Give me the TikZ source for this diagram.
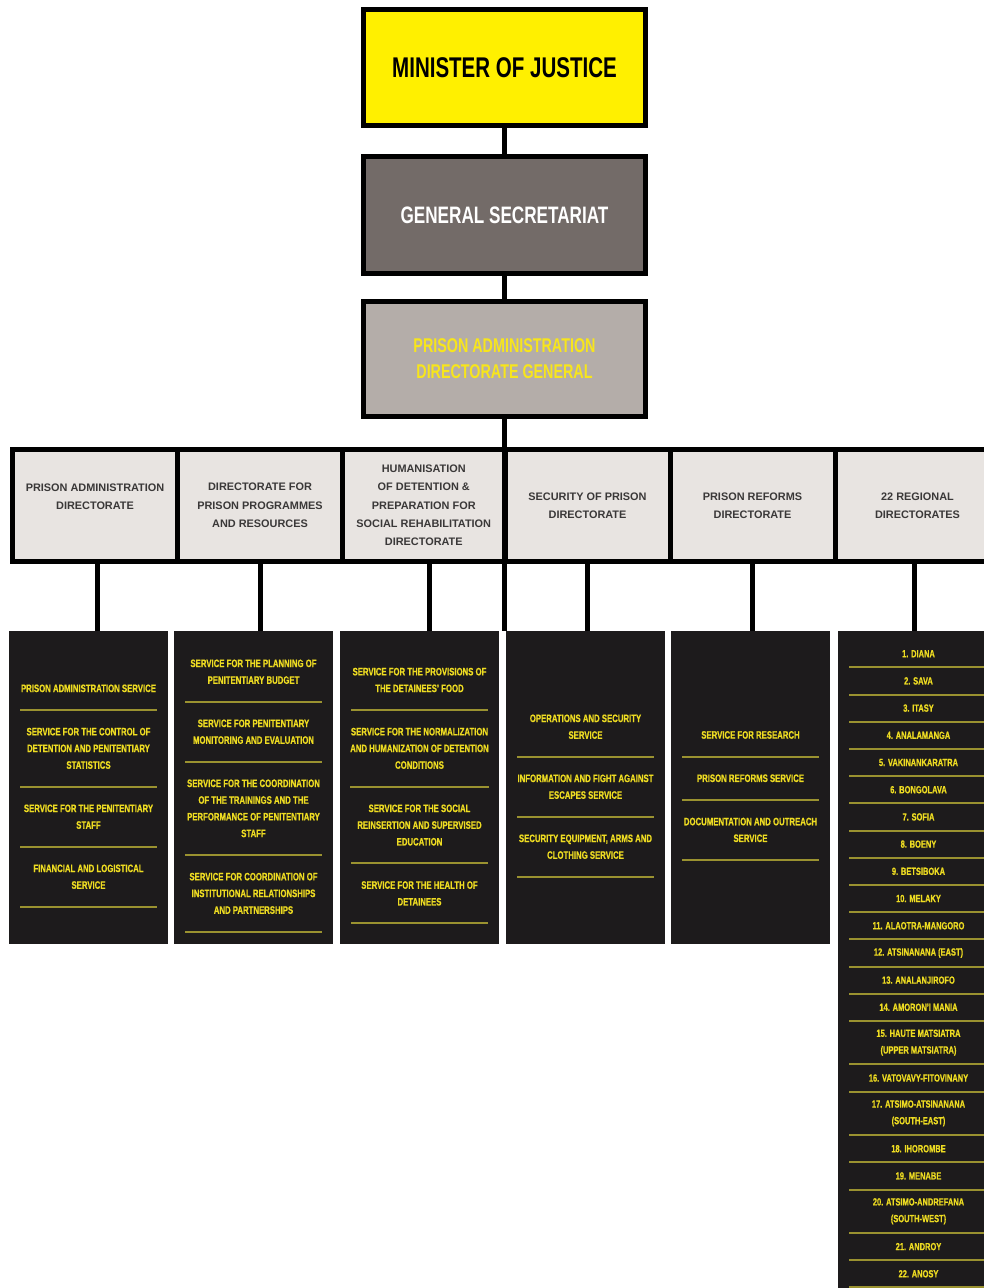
\documentclass[tikz,border=0pt]{standalone}
\usepackage{fontspec}
\usetikzlibrary{positioning}
\setmainfont{Liberation Sans}
\newfontfamily\condfont[FakeStretch=0.72]{Liberation Sans Bold}
\newfontfamily\svcfont[FakeStretch=0.72, FakeBold=0.6]{Liberation Sans Bold}
\newfontfamily\dirfont{Liberation Sans Bold}

\definecolor{minyellow}{HTML}{FFF000}
\definecolor{secgrey}{HTML}{736B68}
\definecolor{dggrey}{HTML}{B4ADA9}
\definecolor{dgyellow}{HTML}{F7E51C}
\definecolor{dirgrey}{HTML}{E8E4E1}
\definecolor{dirtext}{HTML}{3A3838}
\definecolor{svcblack}{HTML}{1D1B1C}
\definecolor{svcyellow}{HTML}{EEDC22}
\definecolor{svcline}{HTML}{9A9230}

\begin{document}
\begin{tikzpicture}[x=1pt, y=-1pt,
	topbox/.style={draw, line width=5pt, minimum width=282pt, align=center, inner sep=0pt},
	dirbox/.style={draw, line width=5pt, fill=dirgrey, minimum width=165pt, minimum height=112pt, inner sep=0pt, text=dirtext, align=center, font=\dirfont\fontsize{10.9}{18.3}\selectfont},
	svcbox/.style={fill=svcblack, minimum width=159pt, minimum height=313pt, inner sep=0pt},
	svc/.style={text=svcyellow, minimum width=137pt, align=center, inner sep=0pt, outer sep=0pt, font=\svcfont\fontsize{10.8}{16.7}\selectfont},
	oneline/.style={svc, minimum height=43.3pt},
	twolines/.style={svc, minimum height=60pt},
	threelines/.style={svc, minimum height=76.7pt},
	fourlines/.style={svc, minimum height=93.3pt},
	reg/.style={svc, minimum width=139pt, font=\svcfont\fontsize{10.4}{16.7}\selectfont},
	sepline/.style={draw=svcline, line width=2pt},
	link/.style={draw, line width=5pt}]

	\useasboundingbox (0,0) rectangle (984,1288);

	\node (s1) [svcbox] at (88.5,787.5) {};
	\node (s2) [svcbox] at (253.5,787.5) {};
	\node (s3) [svcbox] at (419.5,787.5) {};
	\node (s4) [svcbox] at (585,787.5) {};
	\node (s5) [svcbox] at (750.5,787.5) {};
	\node (s6) [svcbox, minimum width=160pt, minimum height=669pt] at (918,965.5) {};

	\node (mj) [topbox, fill=minyellow, minimum height=116pt, font=\condfont\fontsize{28.5}{34}\selectfont] at (504.5,67.5) {MINISTER OF JUSTICE};
	\node (gs) [topbox, fill=secgrey, minimum height=117pt, below=26pt of mj, text=white, font=\condfont\fontsize{23.8}{28}\selectfont] {GENERAL SECRETARIAT};
	\node (pa) [topbox, fill=dggrey, minimum height=115pt, below=23pt of gs, text=dgyellow, font=\condfont\fontsize{19.9}{26}\selectfont] {PRISON ADMINISTRATION\\DIRECTORATE GENERAL};

	\node (d1) [dirbox] at (95,505.5) {PRISON ADMINISTRATION\\DIRECTORATE\\\mbox{}};
	\node (d2) [dirbox, right=-5pt of d1] {DIRECTORATE FOR\\PRISON PROGRAMMES\\AND RESOURCES};
	\node (d3) [dirbox, minimum width=162.5pt, right=-5pt of d2] {HUMANISATION\\OF DETENTION \&\\PREPARATION FOR\\SOCIAL REHABILITATION\\DIRECTORATE};
	\node (d4) [dirbox, right=-5pt of d3] {SECURITY OF PRISON\\DIRECTORATE};
	\node (d5) [dirbox, right=-5pt of d4] {PRISON REFORMS\\DIRECTORATE};
	\node (d6) [dirbox, right=-5pt of d5] {22 REGIONAL\\DIRECTORATES};

	\path[link]
	(mj) edge (gs)
	(gs) edge (pa)
	(pa.south) edge (pa.south |- s4.north)
	
	([xshift=2pt]d1.south) edge ([xshift=2pt]d1.south |- s1.north)
	(d2.south) edge (d2.south |- s2.north)
	([xshift=6pt]d3.south) edge ([xshift=6pt]d3.south |- s3.north)
	(d4.south) edge (d4.south |- s4.north)
	(d5.south) edge (d5.south |- s5.north)
	([xshift=-3.5pt]d6.south) edge ([xshift=-3.5pt]d6.south |- s6.north);

	\node (a1) [oneline, anchor=north] at (88.5,666.7) {PRISON ADMINISTRATION SERVICE};
	\node (a2) [threelines, below=0pt of a1] {SERVICE FOR THE CONTROL OF\\DETENTION AND PENITENTIARY\\STATISTICS};
	\node (a3) [twolines, below=0pt of a2] {SERVICE FOR THE PENITENTIARY\\STAFF};
	\node (a4) [twolines, below=0pt of a3] {FINANCIAL AND LOGISTICAL\\SERVICE};

	\node (b1) [twolines, anchor=north] at (253.5,641.7) {SERVICE FOR THE PLANNING OF\\PENITENTIARY BUDGET};
	\node (b2) [twolines, below=0pt of b1] {SERVICE FOR PENITENTIARY\\MONITORING AND EVALUATION};
	\node (b3) [fourlines, below=0pt of b2] {SERVICE FOR THE COORDINATION\\OF THE TRAININGS AND THE\\PERFORMANCE OF PENITENTIARY\\STAFF};
	\node (b4) [threelines, below=0pt of b3] {SERVICE FOR COORDINATION OF\\INSTITUTIONAL RELATIONSHIPS\\AND PARTNERSHIPS};

	\node (c1) [twolines, anchor=north] at (419.5,650) {SERVICE FOR THE PROVISIONS OF\\THE DETAINEES’ FOOD};
	\node (c2) [threelines, below=0pt of c1] {SERVICE FOR THE NORMALIZATION\\AND HUMANIZATION OF DETENTION\\CONDITIONS};
	\node (c3) [threelines, below=0pt of c2] {SERVICE FOR THE SOCIAL\\REINSERTION AND SUPERVISED\\EDUCATION};
	\node (c4) [twolines, below=0pt of c3] {SERVICE FOR THE HEALTH OF\\DETAINEES};

	\node (e1) [twolines, anchor=north] at (585.5,696.7) {OPERATIONS AND SECURITY\\SERVICE};
	\node (e2) [twolines, below=0pt of e1] {INFORMATION AND FIGHT AGAINST\\ESCAPES SERVICE};
	\node (e3) [twolines, below=0pt of e2] {SECURITY EQUIPMENT, ARMS AND\\CLOTHING SERVICE};

	\node (f1) [oneline, anchor=north] at (750.5,713.3) {SERVICE FOR RESEARCH};
	\node (f2) [oneline, below=0pt of f1] {PRISON REFORMS SERVICE};
	\node (f3) [twolines, below=0pt of f2] {DOCUMENTATION AND OUTREACH\\SERVICE};

	\foreach \n in {a1,a2,a3,a4,b1,b2,b3,b4,c1,c2,c3,c4,e1,e2,e3,f1,f2,f3}
		\draw[sepline] (\n.south west) -- (\n.south east);

	\node (r1) [reg, minimum height=27.2pt, anchor=north] at (918.5,640.1) {1. DIANA};
	\foreach \i/\j/\h/\txt in {2/1/27.2/2. SAVA, 3/2/27.2/3. ITASY, 4/3/27.2/4. ANALAMANGA,
		5/4/27.2/5. VAKINANKARATRA, 6/5/27.2/6. BONGOLAVA, 7/6/27.2/7. SOFIA,
		8/7/27.2/8. BOENY, 9/8/27.2/9. BETSIBOKA, 10/9/27.2/10. MELAKY,
		11/10/27.2/11. ALAOTRA-MANGORO, 12/11/27.2/12. ATSINANANA (EAST),
		13/12/27.2/13. ANALANJIROFO, 14/13/27.2/14. AMORON’I MANIA,
		15/14/43.5/{15. HAUTE MATSIATRA\\(UPPER MATSIATRA)},
		16/15/27.2/16. VATOVAVY-FITOVINANY,
		17/16/43.5/{17. ATSIMO-ATSINANANA\\(SOUTH-EAST)},
		18/17/27.2/18. IHOROMBE, 19/18/27.2/19. MENABE,
		20/19/43.5/{20. ATSIMO-ANDREFANA\\(SOUTH-WEST)},
		21/20/27.2/21. ANDROY, 22/21/27.2/22. ANOSY}
		\node (r\i) [reg, minimum height=\h, below=0pt of r\j] {\txt};

	\foreach \i in {1,...,22}
		\draw[sepline] (r\i.south west) -- (r\i.south east);

\end{tikzpicture}
\end{document}
